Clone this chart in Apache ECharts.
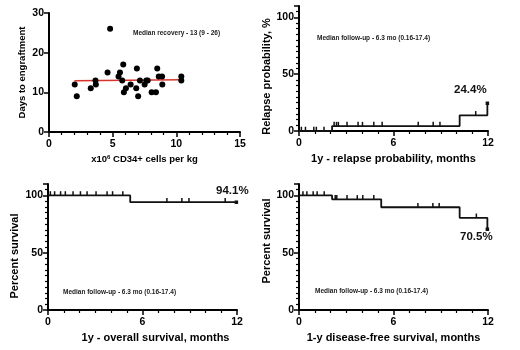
<!DOCTYPE html>
<html>
<head>
<meta charset="utf-8">
<script src="https://cdn.jsdelivr.net/npm/echarts@6/dist/echarts.min.js"></script>
<style>
  html, body { margin: 0; padding: 0; background: #fff; }
  #chart { width: 520px; height: 350px; }
</style>
</head>
<body>
<div id="chart"></div>
<script>
// engraftment scatter
const cd34 = [2.02, 2.18, 3.28, 3.65, 3.68, 4.6, 4.8, 5.46, 5.57, 5.75, 5.83, 5.88, 6.04, 6.41, 6.85,
  6.9, 7.0, 7.14, 7.51, 7.64, 7.75, 8.06, 8.4, 8.5, 8.62, 8.88, 8.9, 10.39, 10.39];
const engraftDays = [12, 9, 11, 13, 12, 15, 26, 14, 15, 13, 17, 10, 11, 12, 11,
  16, 9, 13, 12, 13, 13, 10, 10, 16, 14, 14, 12, 14, 13];
const fitX = [2.0, 10.4];
const fitY = [12.9, 13.2];

// relapse probability (cumulative, %)
const relapseTimes = [0, 2.1, 10.2, 11.96];
const relapsePct = [0, 4.3, 13.8, 24.4];
const relapseCensor = [0.15, 0.41, 0.94, 1.1, 1.59, 2.23, 2.38, 2.5, 3.05, 3.75, 4.03, 4.75, 5.28, 7.57, 8.52, 8.95, 11.22];

// overall survival
const osTimes = [0, 5.22, 11.96];
const osPct = [100, 94.1, 94.1];
const osCensor = [0.15, 0.42, 0.8, 1.1, 1.59, 2.06, 2.48, 3.05, 3.75, 4.1, 4.75, 7.55, 8.5, 8.95, 11.25];

// disease-free survival
const dfsTimes = [0, 2.1, 5.22, 10.2, 11.96];
const dfsPct = [100, 96.6, 89.7, 80.5, 70.5];
const dfsCensor = [0.25, 0.5, 0.9, 1.15, 1.6, 2.3, 2.4, 3.05, 3.7, 4.05, 4.75, 7.55, 8.5, 8.9, 11.26];

const endLabels = ['24.4%', '94.1%', '70.5%'];
const followUp = 'Median follow-up - 6.3 mo (0.16-17.4)';

const FONT = 'Liberation Sans, Arial, sans-serif';

function levelAt(times, pct, t) {
  let v = pct[0];
  for (let i = 0; i < times.length; i++) {
    if (times[i] <= t) v = pct[i];
  }
  return v;
}

function xAxisOf(grid, min, max, interval, minorSplit, name, extra) {
  return Object.assign({
    gridIndex: grid, type: 'value', min: min, max: max, interval: interval,
    name: name, nameLocation: 'middle', nameGap: 22,
    nameTextStyle: { fontFamily: FONT, fontWeight: 'bold', fontSize: 11, color: '#000' },
    axisLine: { onZero: false, lineStyle: { color: '#000', width: 2 } },
    axisTick: { show: true, inside: false, length: 5, lineStyle: { color: '#000', width: 1.5 } },
    minorTick: { show: true, splitNumber: minorSplit, length: 3, lineStyle: { color: '#000', width: 1.2 } },
    axisLabel: { fontFamily: FONT, fontWeight: 'bold', fontSize: 10.5, color: '#000', margin: 7 },
    splitLine: { show: false }
  }, extra || {});
}

function yAxisOf(grid, min, max, interval, minorSplit, name, extra) {
  return Object.assign({
    gridIndex: grid, type: 'value', min: min, max: max, interval: interval,
    name: name, nameLocation: 'middle', nameGap: 27,
    nameTextStyle: { fontFamily: FONT, fontWeight: 'bold', fontSize: 11, color: '#000' },
    axisLine: { onZero: false, lineStyle: { color: '#000', width: 2 } },
    axisTick: { show: true, inside: false, length: 5, lineStyle: { color: '#000', width: 1.5 } },
    minorTick: { show: minorSplit > 0, splitNumber: minorSplit || 5, length: 3, lineStyle: { color: '#000', width: 1.2 } },
    axisLabel: {
      fontFamily: FONT, fontWeight: 'bold', fontSize: 10.5, color: '#000', margin: 5,
      formatter: function (v) { return v % interval === 0 ? String(v) : ''; }
    },
    splitLine: { show: false }
  }, extra || {});
}

function kmSeries(idx, times, pct, censor, label, labelOffset) {
  const line = times.map((t, i) => [t, pct[i]]);
  const ticks = censor.map(t => [t, levelAt(times, pct, t)]);
  const last = line[line.length - 1];
  return [
    {
      type: 'line', xAxisIndex: idx, yAxisIndex: idx, step: 'end', data: line,
      showSymbol: false, silent: true,
      lineStyle: { color: '#111', width: 1.8 }
    },
    {
      type: 'scatter', xAxisIndex: idx, yAxisIndex: idx, data: ticks,
      symbol: 'rect', symbolSize: [1.5, 4.5], symbolOffset: [0, -2],
      itemStyle: { color: '#111', opacity: 1 }, silent: true
    },
    {
      type: 'scatter', xAxisIndex: idx, yAxisIndex: idx, data: [last],
      symbol: 'rect', symbolSize: 3.5, itemStyle: { color: '#111', opacity: 1 }, silent: true,
      label: {
        show: true, position: 'inside', offset: labelOffset,
        formatter: label, fontFamily: FONT, fontWeight: 'bold', fontSize: 11.5,
        color: '#111', textBorderWidth: 0
      }
    }
  ];
}

const chart = echarts.init(document.getElementById('chart'), null, { renderer: 'canvas' });

const option = {
  animation: false,
  backgroundColor: '#fff',
  grid: [
    { left: 49, top: 13, width: 191, height: 119 },
    { left: 299, top: 6, width: 189, height: 125 },
    { left: 48, top: 184, width: 189, height: 126 },
    { left: 299, top: 184, width: 189, height: 126 }
  ],
  xAxis: [
    xAxisOf(0, 0, 15, 5, 5, 'x10{s|6} CD34+ cells per kg', {
      nameTextStyle: {
        fontFamily: FONT, fontWeight: 'bold', fontSize: 9.5, color: '#000',
        rich: { s: { fontFamily: FONT, fontWeight: 'bold', fontSize: 6, color: '#000', verticalAlign: 'top', padding: [0, 0, 5, 0] } }
      }
    }),
    xAxisOf(1, 0, 12, 6, 6, '1y - relapse probability, months'),
    xAxisOf(2, 0, 12, 6, 6, '1y - overall survival, months', {
      nameTextStyle: { fontFamily: FONT, fontWeight: 'bold', fontSize: 11, color: '#000', padding: [0, 0, 0, 26] }
    }),
    xAxisOf(3, 0, 12, 6, 6, '1-y disease-free survival, months')
  ],
  yAxis: [
    yAxisOf(0, 0, 30, 10, 0, 'Days to engraftment', {
      nameGap: 22,
      nameTextStyle: { fontFamily: FONT, fontWeight: 'bold', fontSize: 9.5, color: '#000' }
    }),
    yAxisOf(1, 0, 110, 50, 10, 'Relapse probability, %', {
      nameTextStyle: { fontFamily: FONT, fontWeight: 'bold', fontSize: 11, color: '#000', padding: [0, 16, 0, 0] }
    }),
    yAxisOf(2, 0, 110, 50, 10, 'Percent survival', {
      nameGap: 28,
      nameTextStyle: { fontFamily: FONT, fontWeight: 'bold', fontSize: 11, color: '#000', padding: [0, 18, 0, 0] }
    }),
    yAxisOf(3, 0, 110, 50, 10, 'Percent survival', {
      nameTextStyle: { fontFamily: FONT, fontWeight: 'bold', fontSize: 11, color: '#000', padding: [0, 0, 0, 12] }
    })
  ],
  graphic: [
    { type: 'text', left: 133, top: 30, style: { text: 'Median recovery - 13 (9 - 26)', font: 'bold 6.5px ' + FONT, fill: '#222' } },
    { type: 'text', left: 317, top: 35, style: { text: followUp, font: 'bold 6.5px ' + FONT, fill: '#222' } },
    { type: 'text', left: 63, top: 289, style: { text: followUp, font: 'bold 6.5px ' + FONT, fill: '#222' } },
    { type: 'text', left: 315, top: 288, style: { text: followUp, font: 'bold 6.5px ' + FONT, fill: '#222' } }
  ],
  series: [
    {
      type: 'scatter', xAxisIndex: 0, yAxisIndex: 0,
      data: cd34.map((x, i) => [x, engraftDays[i]]),
      symbolSize: 6, itemStyle: { color: '#000', opacity: 1 }, silent: true, z: 3
    },
    {
      type: 'line', xAxisIndex: 0, yAxisIndex: 0,
      data: fitX.map((x, i) => [x, fitY[i]]),
      showSymbol: false, silent: true, z: 2,
      lineStyle: { color: '#d9342b', width: 1.5 }
    }
  ]
    .concat(kmSeries(1, relapseTimes, relapsePct, relapseCensor, endLabels[0], [-17, -13]))
    .concat(kmSeries(2, osTimes, osPct, osCensor, endLabels[1], [-4, -11]))
    .concat(kmSeries(3, dfsTimes, dfsPct, dfsCensor, endLabels[2], [-11, 8]))
};

chart.setOption(option);
window.onresize = function () {
  chart.resize();
};
</script>
</body>
</html>
